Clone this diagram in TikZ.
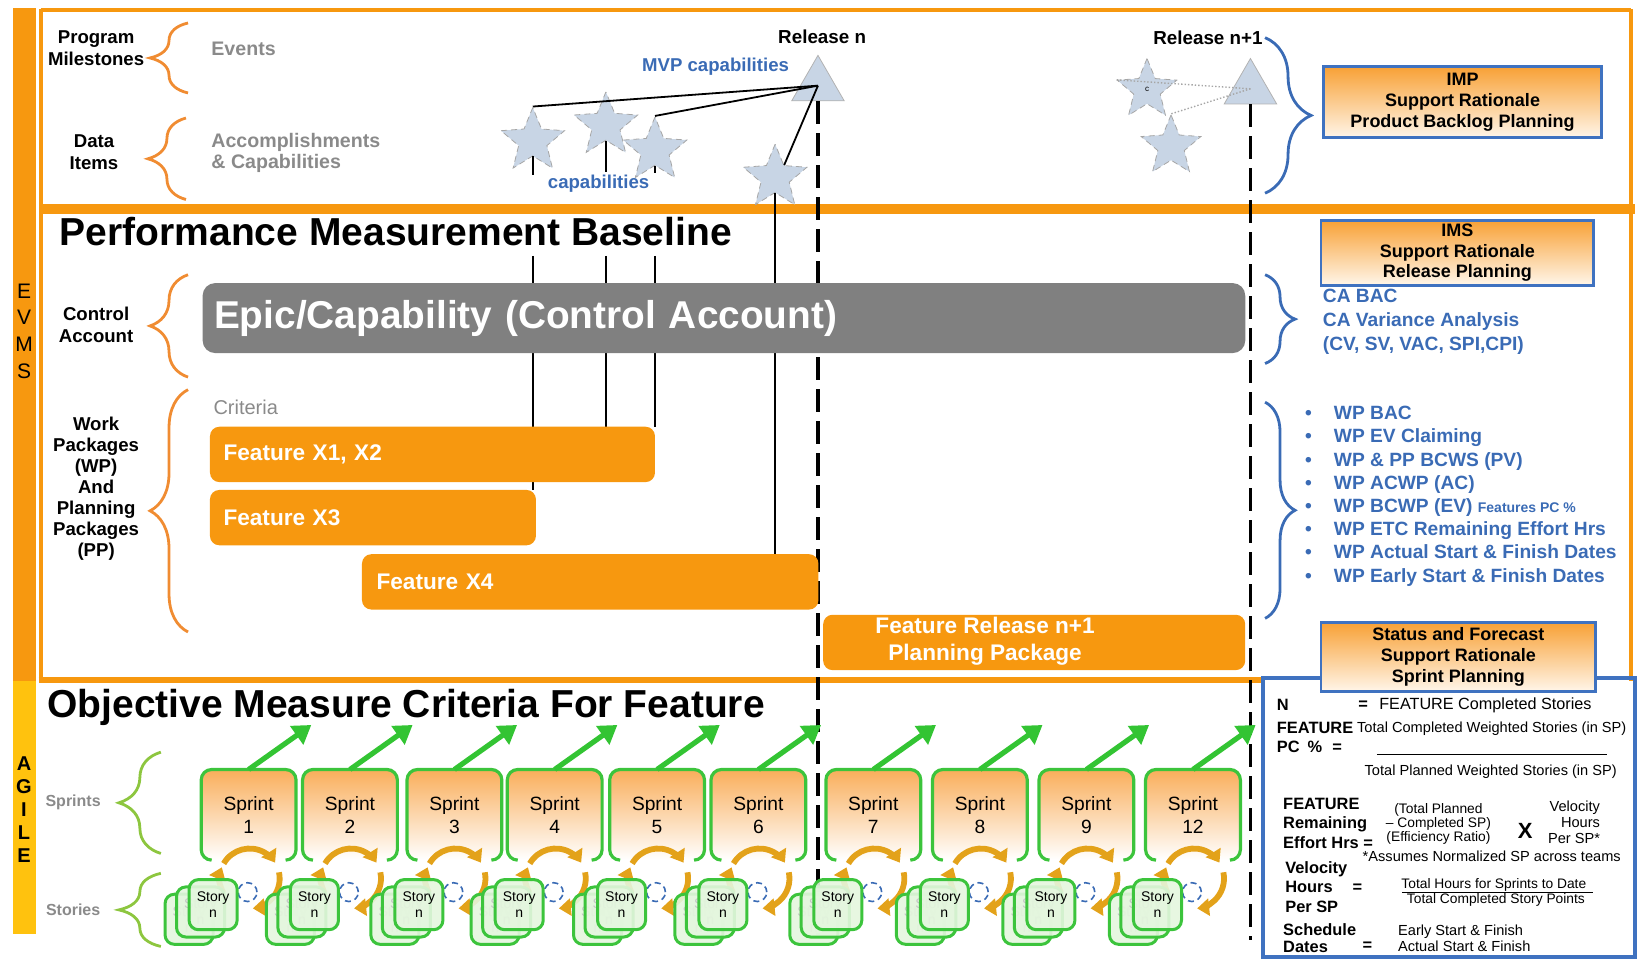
\documentclass[tikz,border=0pt]{standalone}
\usepackage{fontspec}
\setmainfont{Liberation Sans}
\usetikzlibrary{shapes.geometric,decorations.pathreplacing,arrows.meta}

\definecolor{evmsorange}{HTML}{F7980F}
\definecolor{agileyellow}{HTML}{FFC20E}
\definecolor{braceorange}{HTML}{F08C32}
\definecolor{featorange}{HTML}{F7980F}
\definecolor{epicgray}{HTML}{808080}
\definecolor{planblue}{HTML}{3A6BB5}
\definecolor{boxblue}{HTML}{3F72C0}
\definecolor{hdrtop}{HTML}{F8A136}
\definecolor{hdrbottom}{HTML}{FFF6EA}
\definecolor{labelgray}{HTML}{8A8A8A}
\definecolor{stargray}{HTML}{C8D5E5}
\definecolor{storygreen}{HTML}{3CC43C}
\definecolor{goalgreen}{HTML}{33C433}
\definecolor{bracegreen}{HTML}{8DC63F}
\definecolor{cyclegold}{HTML}{E3A21A}
\definecolor{sprinttop}{HTML}{F9AE5B}
\definecolor{storyfill}{HTML}{E4F6DE}

\newcommand{\pxu}{0.5223pt}

\tikzset{
  frameline/.style={draw=evmsorange, line width=2pt},
  orangebrace/.style={draw=braceorange, line width=1.4pt, decorate, decoration={brace, amplitude=19pt}},
  bluebrace/.style={draw=planblue, line width=1.4pt, decorate, decoration={brace, amplitude=15pt}},
  greenbrace/.style={draw=bracegreen, line width=1.4pt, decorate, decoration={brace, amplitude=21pt}},
  sidebar/.style={font=\fontsize{10.5}{13.3}\selectfont, align=center, inner sep=0pt},
  sidelabel/.style={font=\bfseries\fontsize{9.3}{11}\selectfont, align=center, inner sep=0pt},
  graytext/.style={text=labelgray, font=\bfseries\fontsize{9.8}{10.5}\selectfont, align=left, anchor=west, inner sep=0pt},
  bigtitle/.style={font=\bfseries\fontsize{19.5}{22}\selectfont, anchor=west, inner sep=0pt},
  captext/.style={text=planblue, font=\bfseries\fontsize{9.3}{11}\selectfont, inner sep=0pt},
  capstar/.style={star, star points=5, star point ratio=2.25, minimum size=64*\pxu, inner sep=0pt,
    fill=stargray, draw=gray!70, densely dashed, line width=0.4pt},
  relmark/.style={regular polygon, regular polygon sides=3, minimum size=58*\pxu, inner sep=0pt,
    fill=stargray, draw=gray!60, line width=0.4pt},
  mvpline/.style={draw=black, line width=0.9pt},
  planline/.style={draw=gray!70, densely dotted, line width=0.7pt},
  capline/.style={draw=black, line width=0.9pt},
  releaseline/.style={draw=black, line width=1.7pt, dash pattern=on 11.5pt off 4.5pt},
  hdrbox/.style={draw=boxblue, line width=1.4pt, top color=hdrtop, bottom color=hdrbottom,
    font=\bfseries\fontsize{9}{10.4}\selectfont, align=center, inner sep=0pt},
  epicbar/.style={fill=epicgray, rounded corners=12*\pxu, text=white, font=\bfseries\fontsize{19.4}{22}\selectfont,
    minimum height=67*\pxu, inner xsep=11*\pxu, inner ysep=0pt, text width=509.8pt, align=left},
  featbar/.style={fill=featorange, rounded corners=9*\pxu, text=white, font=\bfseries\fontsize{11.3}{13.6}\selectfont,
    minimum height=53*\pxu, inner xsep=13*\pxu, inner ysep=0pt, align=left},
  bluelist/.style={text=planblue, font=\bfseries\fontsize{9.6}{11.6}\selectfont, anchor=west, align=left, inner sep=0pt},
  boxbold/.style={font=\bfseries\fontsize{8.2}{9.7}\selectfont, anchor=west, align=left, inner sep=0pt},
  boxtext/.style={font=\fontsize{8.1}{9.6}\selectfont, anchor=west, inner sep=0pt},
  boxsmall/.style={font=\fontsize{7.3}{7.8}\selectfont, inner sep=0pt},
  boxtiny/.style={font=\fontsize{6.9}{7.1}\selectfont, align=center, inner sep=0pt},
  sprintbox/.style={top color=sprinttop, bottom color=white, rounded corners=10*\pxu, minimum width=90*\pxu,
    minimum height=86*\pxu, inner sep=0pt, font=\fontsize{9.6}{11.5}\selectfont, align=center},
  sprintedge/.style={draw=storygreen, line width=1.6pt, rounded corners=10*\pxu},
  storybox/.style={draw=storygreen, line width=1.5pt, fill=storyfill, fill opacity=0.9, text opacity=1,
    rounded corners=9*\pxu, minimum width=46*\pxu, minimum height=48*\pxu, inner sep=0pt,
    font=\fontsize{7}{8}\selectfont, align=center},
  cyclearrow/.style={draw=cyclegold, line width=2.9pt, -{Triangle[length=6pt,width=8.5pt]}},
  goalarrow/.style={draw=goalgreen, line width=2.6pt, -{Triangle[length=9pt,width=11pt]}}
}

\begin{document}
\begin{tikzpicture}[x=0.5223pt, y=-0.5223pt]
\useasboundingbox (0,0) rectangle (1568,919);

% side bars and frames
\fill[evmsorange] (12,8) rectangle (34,652);
\fill[agileyellow] (12,652) rectangle (34,894);
\node[sidebar] (evms) at (23,317) {E\\V\\M\\S};
\node[sidebar, font=\bfseries\fontsize{10}{11.4}\selectfont] (agile) at (23,775) {A\\G\\I\\L\\E};
\draw[frameline] (39,10) -- (1561,10);
\draw[frameline] (39,9) -- (39,652);
\draw[frameline] (1561,9) -- (1561,652);
\fill[evmsorange] (37,195) rectangle (1565,205);
\draw[frameline, line width=3pt] (37,651) -- (1209,651);

% milestones and data items
\node[sidelabel] (pm) at (92,46) {Program\\Milestones};
\node[sidelabel] (di) at (90,146) {Data\\Items};
\draw[orangebrace] (180,89) -- (180,22);
\draw[orangebrace] (178,191) -- (178,113);
\node[graytext] (ev) at (202,47) {Events};
\node[graytext] (ac) at (202,146) {Accomplishments\\\& Capabilities};

% capabilities and releases
\node[capstar] (st1) at (510,135) {};
\node[capstar] (st2) at (580,120) {};
\node[capstar] (st3) at (627,144) {};
\node[capstar] (st4) at (742,170) {};
\node[relmark] (rel1) at (783,82) {};
\node[capstar, minimum size=60*\pxu] (st5) at (1098,86) {\fontsize{4}{4}\selectfont c};
\node[capstar, minimum size=60*\pxu] (st6) at (1121,140) {};
\node[relmark] (rel2) at (1197,85) {};
\node[font=\bfseries\fontsize{9.4}{11}\selectfont, inner sep=0pt] (reln) at (787,35) {Release n};
\node[font=\bfseries\fontsize{9.4}{11}\selectfont, inner sep=0pt, anchor=east] (relnn) at (1209,36) {Release n+1};
\node[captext] (mvp) at (685,64) {MVP capabilities};
\node[captext] (caps) at (573,176) {capabilities};

\draw[mvpline] (rel1.center) -- (st1.north);
\draw[mvpline] (rel1.center) -- (st3.north);
\draw[mvpline] (rel1.center) -- (st4.inner point 5);
\draw[planline] (rel2.center) -- (st5.outer point 2);
\draw[planline] (rel2.center) -- (st6.north);

\coordinate (cap1) at (510,168);
\coordinate (cap2) at (580,165);
\coordinate (cap3) at (627,166);
\coordinate (pmb1) at (510,245);
\coordinate (pmb2) at (580,245);
\coordinate (pmb3) at (627,245);
\coordinate (ft1) at (510,469);
\coordinate (ft2) at (580,409);
\coordinate (ft3) at (627,409);
\coordinate (ft4) at (742,530);
\draw[capline] (st1.inner point 3) -- (cap1);
\draw[capline] (st2.inner point 3) -- (cap2);
\draw[capline] (st3.inner point 3) -- (cap3);
\draw[capline] (pmb1) -- (ft1);
\draw[capline] (pmb2) -- (ft2);
\draw[capline] (pmb3) -- (ft3);
\draw[capline] (st4.inner point 3) -- (ft4);

\coordinate (rel1end) at (783,895);
\coordinate (rel2end) at (1197,900);
\draw[releaseline] (rel1.south) -- (rel1end);
\draw[releaseline] (rel2.south) -- (rel2end);

\draw[bluebrace, decoration={brace, amplitude=23pt}] (1211,36) -- (1211,185);
\node[hdrbox, minimum width=266*\pxu, minimum height=68*\pxu] (imp) at (1400,98) {IMP\\Support Rationale\\Product Backlog Planning};

% performance measurement baseline
\node[bigtitle] (pmbtitle) at (57,222) {Performance Measurement Baseline};
\node[sidelabel] (cal) at (92,311) {Control\\Account};
\node[sidelabel, font=\bfseries\fontsize{9.3}{10.5}\selectfont] (wpl) at (92,468) {Work\\Packages\\(WP)\\And\\Planning\\Packages\\(PP)};
\draw[orangebrace] (180,361) -- (180,263);
\draw[orangebrace] (180,605) -- (180,373);
\node[epicbar] (epic) at (693,304.5) {Epic/Capability (Control Account)};
\node[text=labelgray, font=\fontsize{10}{12}\selectfont, anchor=west, inner sep=0pt] (crit) at (204,390) {Criteria};
\node[featbar, text width=208.9pt] (fx12) at (414,435) {Feature X1, X2};
\node[featbar, text width=149.4pt] (fx3) at (357,495.5) {Feature X3};
\node[featbar, text width=213.6pt, inner xsep=14*\pxu] (fx4) at (565,557) {Feature X4};
\node[featbar, minimum width=404*\pxu] (frn) at (990,615) {};
\node[text=white, font=\bfseries\fontsize{11.3}{13.6}\selectfont, align=center, inner sep=0pt] (frntext) at (943,614) {Feature Release n+1\\Planning Package};

\node[hdrbox, minimum width=261*\pxu, minimum height=62*\pxu] (ims) at (1395,242) {IMS\\Support Rationale\\Release Planning};
\draw[bluebrace] (1211,263) -- (1211,348);
\node[bluelist, font=\bfseries\fontsize{9.6}{11.8}\selectfont] (calist) at (1266,308) {CA BAC\\CA Variance Analysis\\(CV, SV, VAC, SPI,CPI)};
\draw[bluebrace] (1211,385) -- (1211,592);
\node[bluelist] (wplist) at (1249,475) {\begin{tabular}{@{}l@{\hspace{11pt}}l@{}}
\textbullet & WP BAC\\
\textbullet & WP EV Claiming\\
\textbullet & WP \& PP BCWS (PV)\\
\textbullet & WP ACWP (AC)\\
\textbullet & WP BCWP (EV) {\fontsize{7}{8}\selectfont Features PC \%}\\
\textbullet & WP ETC Remaining Effort Hrs\\
\textbullet & WP Actual Start \& Finish Dates\\
\textbullet & WP Early Start \& Finish Dates
\end{tabular}};

% formulas box
\draw[draw=boxblue, line width=2pt] (1209,649) rectangle (1565,916);
\node[hdrbox, minimum width=263*\pxu, minimum height=66*\pxu] (sfc) at (1396,629) {Status and Forecast\\Support Rationale\\Sprint Planning};
\node[boxbold] (nlab) at (1222,675) {N};
\node[boxbold] (neq) at (1300,675) {=};
\node[boxtext] (ndef) at (1320,675) {FEATURE Completed Stories};
\node[boxbold] (pclab) at (1222,706) {FEATURE\\PC\hspace{4pt}\%\hspace{5pt}=};
\node[boxsmall] (pcnum) at (1428,698) {Total Completed Weighted Stories (in SP)};
\draw[line width=0.5pt] (1318,722) -- (1538,722);
\node[boxsmall] (pcden) at (1427,739) {Total Planned Weighted Stories (in SP)};
\node[boxbold] (relab) at (1228,788) {FEATURE\\Remaining\\Effort Hrs =};
\node[boxtiny] (retxt) at (1377,789) {(Total Planned\\-- Completed SP)\\(Efficiency Ratio)};
\node[font=\bfseries\fontsize{11}{12}\selectfont, inner sep=0pt] (times) at (1460,795) {X};
\node[boxsmall, align=right, anchor=east, font=\fontsize{7.3}{8.1}\selectfont] (vhtxt) at (1532,787) {Velocity\\Hours\\Per SP*};
\node[boxsmall] (assume) at (1428,820) {*Assumes Normalized SP across teams};
\node[boxbold] (vlab) at (1230,849) {Velocity\\Hours\hspace{10pt}=\\Per SP};
\node[boxtiny] (vnum) at (1430,847) {Total Hours for Sprints to Date};
\draw[line width=0.5pt] (1342,854) -- (1525,854);
\node[boxtiny] (vden) at (1432,861) {Total Completed Story Points};
\node[boxbold, font=\bfseries\fontsize{8.2}{8.9}\selectfont] (sdlab) at (1228,898) {Schedule\\Dates};
\node[boxbold] (sdeq) at (1304,906) {=};
\node[boxsmall, anchor=west, align=left] (sdtxt) at (1338,898) {Early Start \& Finish\\Actual Start \& Finish};

% agile sprints and stories
\node[bigtitle] (omctitle) at (45,677) {Objective Measure Criteria For Feature};
\node[graytext, font=\bfseries\fontsize{8}{9}\selectfont, anchor=center] (spl) at (70,768) {Sprints};
\node[graytext, font=\bfseries\fontsize{8}{9}\selectfont, anchor=center] (stl) at (70,871) {Stories};
\draw[greenbrace] (154,817) -- (154,720);
\draw[greenbrace] (154,906) -- (154,836);
\foreach \sn/\xc in {1/238,2/335,3/435,4/531,5/629,6/726,7/836,8/938,9/1040,12/1142}{
  \node[sprintbox] (sp\sn) at (\xc,780) {Sprint\\\sn};
  \draw[sprintedge] ([xshift=10*\pxu]sp\sn.south west) -- (sp\sn.south west) -- (sp\sn.north west)
    -- (sp\sn.north east) -- (sp\sn.south east) -- ([xshift=-10*\pxu]sp\sn.south east);
  \coordinate (gl\sn) at (\xc+60,694);
  \draw[goalarrow] (sp\sn.north) -- (gl\sn);
  \coordinate (cy\sn) at (\xc+1,841);
  \draw[cyclearrow] ([shift={(150:15pt)}]cy\sn) arc[start angle=150, end angle=32, radius=15pt];
  \draw[cyclearrow] ([shift={(12:15pt)}]cy\sn) arc[start angle=12, end angle=-84, radius=15pt];
  \draw[cyclearrow] ([shift={(208:15pt)}]cy\sn) arc[start angle=208, end angle=158, radius=15pt];
  \draw[planblue, densely dashed, line width=0.8pt] (\xc-1,854) circle[radius=4.7pt];
  \node[storybox, text=gray!45] (sb\sn) at (\xc-57,880) {Story\\n};
  \node[storybox, text=gray!45] (sm\sn) at (\xc-46,873) {Story\\n};
  \node[storybox] (sf\sn) at (\xc-34,866) {Story\\n};
}
\end{tikzpicture}
\end{document}
